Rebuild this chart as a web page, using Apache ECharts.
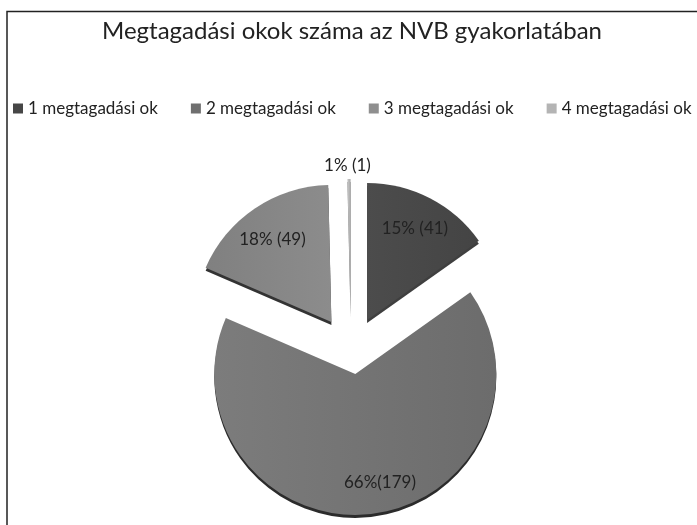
<!DOCTYPE html>
<html>
<head>
<meta charset="utf-8">
<style>html,body{margin:0;padding:0;background:#fff}#main{width:697px;height:525px}</style>
<script src="https://cdn.jsdelivr.net/npm/echarts@6/dist/echarts.min.js"></script>
</head>
<body>
<div id="main"></div>
<script>
const titleText='Megtagadási okok száma az NVB gyakorlatában';
const categories=['1 megtagadási ok','2 megtagadási ok','3 megtagadási ok','4 megtagadási ok'];
const counts=[41,179,49,1];
const pctLabels=['15% (41)','66%(179)','18% (49)','1% (1)'];
const legendColors=['#464646','#6f6f6f','#8f8f8f','#b4b4b4'];
const font='Lato';

const grad=(a,b)=>({type:'linear',x:0,y:0,x2:1,y2:0,colorStops:[{offset:0,color:a},{offset:1,color:b}]});
const fills=[grad('#4c4c4c','#444444'),grad('#7c7c7c','#6c6c6c'),grad('#808080','#8c8c8c'),grad('#c8c8c8','#a8a8a8')];
const rims=['#3f3f3f','#2b2b2b','#333333','#777777'];
// label nudges from the default mid-radius spot
const nudges=[[15,-28],[17,36],[-19,-23],[52,2]];

// two overlaid pies because selectedOffset is per series: the big slice moves less
function pieSeries(showIdx,offset,center,r){
  return {
    type:'pie',center,radius:[0,r],clockwise:true,startAngle:90,
    selectedMode:'multiple',selectedOffset:offset,animation:false,silent:true,
    labelLine:{show:false},
    labelLayout:p=>{const n=nudges[p.dataIndex];return {dx:n[0],dy:n[1]};},
    data:categories.map((name,i)=>{
      const on=showIdx.includes(i);
      return {
        name,value:counts[i],selected:true,
        itemStyle:on?{color:fills[i],shadowColor:rims[i],shadowBlur:0,shadowOffsetY:3}:{color:'rgba(0,0,0,0)'},
        label:{show:on,position:i===3?'outside':'inside',formatter:pctLabels[i],
          color:'#222',fontFamily:font,fontSize:17,distanceToLabelLine:0}
      };
    })
  };
}

const chart=echarts.init(document.getElementById('main'),null,{renderer:'canvas'});
chart.setOption({
  animation:false,
  backgroundColor:'#fff',
  title:{text:titleText,left:97,top:14,textStyle:{color:'#222',fontFamily:font,fontSize:24,fontWeight:'normal'}},
  legend:{
    left:8,top:95,width:900,itemWidth:10,itemHeight:10,itemGap:33,icon:'rect',selectedMode:false,
    textStyle:{color:'#222',fontFamily:font,fontSize:17},
    data:categories.map((name,i)=>({name,itemStyle:{color:legendColors[i]}}))
  },
  graphic:[{type:'rect',shape:{x:7,y:11.5,width:700,height:530},style:{fill:'none',stroke:'#222',lineWidth:1.5},silent:true}],
  series:[pieSeries([0,2,3],35,[351,351],137),pieSeries([1],22,[353,352],141)]
});
</script>
</body>
</html>
